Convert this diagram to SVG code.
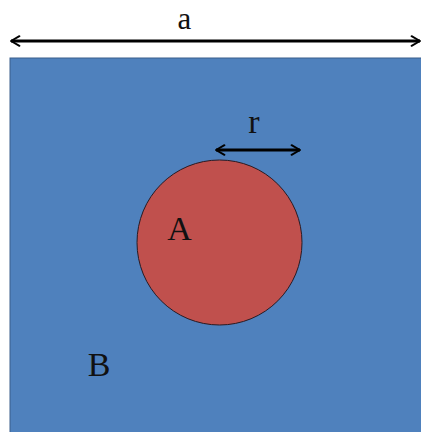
<svg xmlns="http://www.w3.org/2000/svg" width="421" height="432" viewBox="0 0 421 432">
<style>
.lbl{font-family:"Liberation Serif","DejaVu Serif",serif;font-size:34px;fill:#111;text-anchor:middle}
.dim{stroke:#000;stroke-width:3;fill:none}
</style>
<defs>
<marker id="chev" viewBox="0 0 10 10" refX="9" refY="5" markerWidth="4" markerHeight="4" orient="auto-start-reverse" markerUnits="strokeWidth">
<path d="M2,1 L9,5 L2,9" fill="none" stroke="#000" stroke-width="1.6" stroke-linecap="round" stroke-linejoin="round"/>
</marker>
</defs>
<rect width="421" height="432" fill="#fff"/>
<g id="B">
<rect x="10" y="58" width="415" height="380" fill="#4f81bd" stroke="#3a5f8c" stroke-width="1"/>
<text class="lbl" x="99" y="376">B</text>
</g>
<g id="A">
<circle cx="219.5" cy="242.5" r="82.5" fill="#c0504d" stroke="#2a1a22" stroke-width="1"/>
<text class="lbl" x="179.5" y="240">A</text>
</g>
<g id="connectors">
<line class="dim" x1="11" y1="41" x2="420" y2="41" marker-start="url(#chev)" marker-end="url(#chev)"/>
<line class="dim" x1="216" y1="150" x2="300" y2="150" marker-start="url(#chev)" marker-end="url(#chev)"/>
</g>
<text class="lbl" x="184.5" y="28.5" style="font-size:31px">a</text>
<text class="lbl" x="254" y="133">r</text>
</svg>
